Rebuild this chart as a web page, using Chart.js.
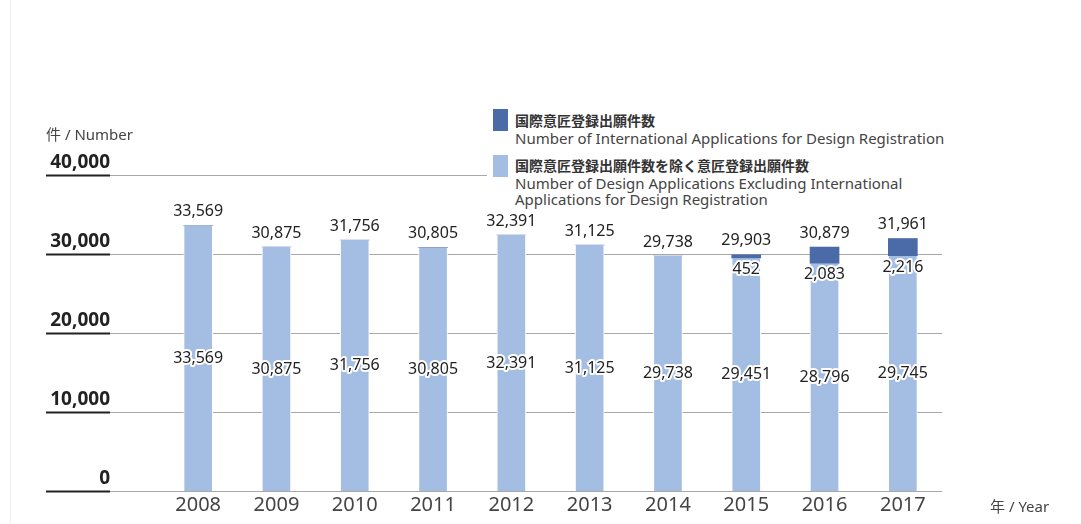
<!DOCTYPE html>
<html>
<head>
<meta charset="utf-8">
<script src="https://cdn.jsdelivr.net/npm/chart.js@4/dist/chart.umd.min.js"></script>
<style>
  body { margin: 0; background: #fff; }
  #wrap { position: relative; width: 1081px; height: 524px; overflow: hidden; }
  #edge { position: absolute; left: 10px; top: 0; width: 1px; height: 524px; background: #f0f0f0; }
  .unit { position: absolute; font-family: "Noto Sans", "Noto Sans CJK JP", sans-serif; font-size: 15px; color: #444; }
  #legend { position: absolute; left: 487px; top: 104px; width: 480px; height: 106px; background: #fff; }
  .sw { position: absolute; left: 6px; width: 15px; height: 22px; }
  .jp { position: absolute; left: 28px; font-family: "Noto Sans CJK JP", sans-serif; font-weight: bold; font-size: 14px; color: #333; line-height: 16px; }
  .en { position: absolute; left: 28px; font-family: "Noto Sans", sans-serif; font-size: 15px; color: #444; line-height: 16px; white-space: nowrap; }
</style>
</head>
<body>
<div id="wrap">
  <div id="edge"></div>
  <canvas id="designChart" width="1081" height="524"></canvas>
  <div class="unit" style="left:46px; top:123px;">件 / Number</div>
  <div class="unit" style="left:990px; top:495px;">年 / Year</div>
  <div id="legend">
    <div class="sw" style="top:5px; background:#4a6aa8;"></div>
    <div class="jp" style="top:8px;">国際意匠登録出願件数</div>
    <div class="en" style="top:26px;">Number of International Applications for Design Registration</div>
    <div class="sw" style="top:51px; background:#a3bde3;"></div>
    <div class="jp" style="top:53px;">国際意匠登録出願件数を除く意匠登録出願件数</div>
    <div class="en" style="top:71px;">Number of Design Applications Excluding International<br>Applications for Design Registration</div>
  </div>
</div>
<script>
years = ["2008", "2009", "2010", "2011", "2012", "2013", "2014", "2015", "2016", "2017"]
domestic = [33569, 30875, 31756, 30805, 32391, 31125, 29738, 29451, 28796, 29745]
international = [0, 0, 0, 0, 0, 0, 0, 452, 2083, 2216]
totals = [33569, 30875, 31756, 30805, 32391, 31125, 29738, 29903, 30879, 31961]
yTicks = [0, 10000, 20000, 30000, 40000]

function fmt(v){
  return v.toLocaleString("en-US")
}

// gridlines with the dark little underline under each y label
gridPlugin = {
  id: "gridLines",
  beforeDatasetsDraw(chart){
    const ctx = chart.ctx
    const y = chart.scales.y
    const right = chart.chartArea.right
    ctx.save()
    yTicks.forEach(t => {
      const py = Math.round(y.getPixelForValue(t)) + 0.5
      ctx.strokeStyle = "#a8a8a8"
      ctx.lineWidth = 1
      ctx.beginPath()
      ctx.moveTo(110, py)
      ctx.lineTo(right, py)
      ctx.stroke()
      ctx.strokeStyle = "#222"
      ctx.lineWidth = 2
      ctx.beginPath()
      ctx.moveTo(46, py)
      ctx.lineTo(110, py)
      ctx.stroke()
      ctx.fillStyle = "#222"
      ctx.font = "bold 19px 'Noto Sans', sans-serif"
      ctx.textAlign = "right"
      ctx.textBaseline = "alphabetic"
      ctx.fillText(fmt(t), 110, py - 8)
    })
    ctx.restore()
  }
}

// value labels: inside the light bars, under the dark part, totals on top
labelPlugin = {
  id: "valueLabels",
  afterDatasetsDraw(chart){
    const ctx = chart.ctx
    ctx.save()
    ctx.font = "16px 'Noto Sans', sans-serif"
    ctx.textAlign = "center"
    ctx.textBaseline = "middle"
    ctx.lineJoin = "round"
    function halo(txt, x, y){
      ctx.strokeStyle = "#fff"
      ctx.lineWidth = 4
      ctx.strokeText(txt, x, y)
      ctx.fillStyle = "#222"
      ctx.fillText(txt, x, y)
    }
    const lo = chart.getDatasetMeta(0).data
    const hi = chart.getDatasetMeta(1).data
    lo.forEach((bar, i) => {
      halo(fmt(domestic[i]), bar.x, (bar.y + bar.base) / 2)
      if (international[i] > 0) {
        halo(fmt(international[i]), hi[i].x, hi[i].base + 11)
      }
      const barTop = international[i] > 0 ? hi[i].y : bar.y
      ctx.fillStyle = "#222"
      ctx.fillText(fmt(totals[i]), bar.x, barTop - 14)
    })
    ctx.restore()
  }
}

chart = document.getElementById("designChart")

designChart = new Chart(chart, {
  type: "bar",
  data: {
    labels: years,
    datasets: [{
      label: "国際意匠登録出願件数を除く意匠登録出願件数",
      data: domestic,
      backgroundColor: "#a3bde3",
      borderColor: "#ffffff",
      borderWidth: {left: 1, right: 1},
      barThickness: 29
    }, {
      label: "国際意匠登録出願件数",
      data: international,
      backgroundColor: "#4a6aa8",
      barThickness: 29
    }]
  },
  plugins: [gridPlugin, labelPlugin],
  options: {
    responsive: false,
    animation: false,
    layout: {
      padding: {left: 159, right: 139, top: 175, bottom: 0}
    },
    plugins: {
      legend: {display: false},
      tooltip: {enabled: false}
    },
    scales: {
      x: {
        stacked: true,
        grid: {display: false, drawTicks: false},
        border: {display: false},
        ticks: {
          padding: 2,
          color: "#444",
          font: {family: "'Noto Sans', sans-serif", size: 20}
        },
        afterFit(scale){ scale.height = 33 }
      },
      y: {
        stacked: true,
        display: false,
        min: 0,
        max: 40000
      }
    }
  }
});
</script>
</body>
</html>
